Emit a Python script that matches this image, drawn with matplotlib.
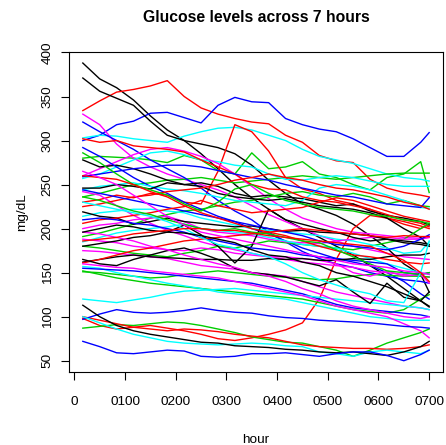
import numpy as np
import matplotlib
matplotlib.use("Agg")
import matplotlib.pyplot as plt

plt.rcParams['font.family'] = ['Liberation Sans', 'DejaVu Sans']

# sampling times in minutes after start
minutes = [10, 30, 50, 70, 90, 110, 130, 150, 170, 190, 210,
           230, 250, 270, 290, 310, 330, 350, 370, 390, 410, 420]

# glucose traces (mg/dL), one list per subject
black = [
    [388, 370, 360, 346, 328, 312, 300, 285, 268, 250, 235, 222, 210, 200, 190, 180, 170, 158, 146, 132, 118, 112],
    [371, 356, 348, 340, 322, 306, 300, 296, 292, 285, 272, 255, 240, 228, 222, 215, 205, 192, 178, 160, 148, 128],
    [278, 270, 272, 268, 262, 255, 250, 252, 248, 240, 236, 238, 236, 234, 230, 226, 228, 220, 215, 212, 208, 204],
    [246, 246, 250, 248, 245, 252, 250, 248, 240, 236, 234, 232, 234, 230, 226, 224, 222, 218, 212, 200, 190, 180],
    [219, 214, 212, 205, 208, 212, 208, 206, 204, 202, 203, 200, 197, 198, 196, 195, 194, 192, 188, 186, 184, 182],
    [180, 183, 186, 190, 192, 196, 204, 193, 180, 161, 180, 222, 210, 205, 200, 196, 190, 186, 188, 184, 182, 180],
    [162, 165, 168, 170, 168, 167, 166, 165, 165, 164, 164, 166, 165, 166, 164, 164, 166, 165, 168, 170, 170, 172],
    [165, 160, 158, 165, 170, 175, 178, 172, 165, 155, 150, 148, 145, 140, 135, 142, 128, 115, 138, 122, 118, 128],
    [113, 100, 90, 84, 80, 77, 74, 71, 70, 67, 66, 65, 63, 62, 60, 59, 60, 58, 56, 60, 66, 72],
    [196, 200, 204, 202, 198, 196, 195, 192, 188, 184, 176, 170, 168, 162, 158, 150, 146, 140, 134, 126, 118, 111],
]
red = [
    [334, 345, 355, 358, 362, 368, 350, 337, 330, 325, 321, 319, 306, 298, 283, 277, 275, 256, 246, 241, 238, 236],
    [230, 233, 238, 235, 240, 238, 230, 228, 265, 318, 310, 288, 258, 245, 240, 232, 228, 222, 212, 205, 200, 205],
    [98, 90, 86, 88, 90, 87, 84, 80, 75, 73, 76, 80, 85, 93, 120, 165, 200, 215, 212, 208, 203, 200],
    [302, 298, 300, 294, 292, 290, 287, 278, 270, 262, 250, 245, 244, 236, 232, 230, 226, 222, 216, 210, 206, 202],
    [225, 228, 232, 236, 238, 242, 244, 246, 250, 255, 258, 262, 258, 255, 250, 246, 244, 240, 236, 230, 226, 222],
    [206, 210, 212, 215, 218, 222, 225, 232, 226, 222, 218, 220, 222, 224, 230, 235, 232, 226, 220, 214, 210, 208],
    [161, 165, 170, 175, 178, 182, 186, 188, 190, 192, 194, 196, 198, 200, 198, 196, 194, 192, 190, 192, 191, 191],
    [100, 96, 92, 88, 86, 84, 86, 85, 83, 80, 78, 76, 72, 68, 66, 65, 64, 64, 63, 64, 66, 68],
    [260, 258, 256, 250, 242, 236, 226, 218, 212, 206, 200, 196, 192, 186, 180, 175, 170, 168, 165, 162, 160, 161],
    [186, 188, 190, 194, 196, 198, 200, 200, 198, 198, 195, 192, 190, 188, 186, 184, 182, 180, 172, 164, 150, 140],
]
green = [
    [280, 282, 281, 280, 278, 275, 283, 278, 266, 262, 286, 268, 270, 276, 262, 258, 250, 244, 258, 262, 276, 241],
    [236, 240, 245, 250, 252, 255, 256, 258, 255, 252, 254, 256, 258, 260, 258, 256, 258, 260, 262, 263, 263, 263],
    [191, 195, 200, 205, 212, 216, 220, 222, 226, 230, 232, 236, 240, 242, 238, 236, 240, 236, 228, 232, 226, 225],
    [180, 178, 175, 172, 170, 168, 172, 175, 180, 178, 182, 186, 184, 182, 180, 178, 176, 180, 184, 188, 200, 206],
    [151, 150, 148, 146, 144, 145, 148, 150, 152, 150, 148, 146, 145, 144, 142, 143, 146, 148, 147, 146, 146, 145],
    [152, 148, 144, 141, 138, 136, 134, 132, 130, 128, 126, 124, 122, 120, 116, 112, 108, 106, 104, 108, 120, 125],
    [87, 89, 91, 90, 92, 94, 93, 90, 86, 82, 77, 74, 71, 70, 66, 62, 55, 62, 70, 76, 82, 86],
    [286, 275, 262, 250, 244, 238, 228, 220, 230, 245, 250, 240, 232, 228, 224, 222, 220, 216, 214, 210, 208, 206],
    [236, 232, 226, 220, 216, 210, 205, 200, 198, 200, 196, 194, 190, 186, 184, 176, 168, 160, 152, 150, 148, 150],
]
blue = [
    [300, 306, 318, 322, 331, 332, 326, 320, 340, 349, 344, 343, 325, 318, 313, 310, 302, 292, 282, 282, 298, 309],
    [321, 310, 300, 290, 278, 268, 258, 246, 232, 220, 210, 196, 185, 174, 166, 160, 156, 150, 146, 142, 140, 138],
    [292, 282, 270, 258, 248, 240, 230, 222, 214, 208, 200, 194, 186, 178, 172, 166, 162, 158, 150, 140, 126, 120],
    [259, 262, 265, 268, 270, 272, 272, 270, 266, 262, 258, 255, 250, 246, 242, 238, 236, 232, 228, 226, 224, 235],
    [244, 240, 236, 232, 228, 224, 220, 216, 212, 208, 204, 200, 196, 192, 186, 182, 180, 178, 176, 180, 188, 193],
    [210, 212, 210, 206, 204, 200, 196, 190, 186, 182, 178, 176, 174, 170, 168, 166, 164, 162, 160, 150, 148, 150],
    [155, 154, 153, 152, 150, 148, 146, 144, 142, 140, 138, 134, 130, 126, 120, 114, 110, 108, 106, 104, 102, 100],
    [97, 103, 108, 105, 104, 105, 107, 110, 107, 105, 104, 101, 99, 98, 96, 95, 94, 93, 91, 89, 88, 87],
    [72, 66, 59, 58, 60, 62, 61, 55, 54, 55, 58, 58, 59, 57, 55, 58, 60, 60, 56, 50, 57, 62],
]
cyan = [
    [303, 306, 305, 302, 300, 298, 305, 310, 314, 315, 312, 306, 300, 290, 282, 278, 274, 268, 262, 258, 256, 254],
    [257, 262, 270, 278, 286, 288, 284, 278, 276, 272, 270, 262, 256, 255, 258, 260, 258, 254, 250, 248, 248, 248],
    [244, 248, 250, 252, 248, 245, 243, 240, 236, 232, 230, 228, 226, 232, 246, 250, 248, 244, 238, 232, 224, 223],
    [214, 218, 220, 222, 222, 220, 218, 212, 208, 204, 200, 198, 196, 194, 192, 188, 186, 182, 178, 172, 174, 185],
    [185, 190, 195, 198, 200, 202, 205, 200, 198, 196, 194, 190, 186, 182, 180, 178, 172, 166, 160, 155, 150, 148],
    [157, 155, 150, 146, 142, 138, 135, 132, 128, 126, 124, 122, 120, 116, 112, 108, 104, 100, 98, 96, 96, 96],
    [120, 118, 116, 119, 122, 126, 129, 130, 131, 132, 130, 128, 126, 124, 122, 120, 118, 116, 114, 112, 110, 108],
    [100, 93, 86, 80, 76, 72, 70, 69, 68, 69, 70, 69, 67, 66, 60, 58, 55, 60, 62, 60, 58, 62],
    [230, 226, 222, 218, 214, 208, 200, 190, 182, 178, 172, 168, 160, 150, 142, 136, 130, 126, 118, 116, 150, 186],
]
magenta = [
    [330, 318, 296, 280, 270, 262, 256, 250, 244, 236, 226, 216, 208, 200, 192, 186, 180, 176, 172, 168, 166, 165],
    [260, 268, 276, 284, 290, 292, 288, 282, 274, 262, 248, 234, 222, 212, 206, 200, 196, 194, 192, 190, 189, 190],
    [242, 238, 226, 215, 206, 198, 192, 185, 180, 176, 172, 168, 165, 162, 160, 158, 156, 152, 150, 148, 146, 145],
    [200, 204, 206, 210, 212, 214, 208, 200, 196, 194, 192, 188, 185, 184, 183, 186, 188, 190, 190, 188, 188, 190],
    [188, 186, 184, 180, 178, 176, 175, 178, 176, 172, 170, 168, 168, 166, 164, 160, 150, 146, 152, 146, 148, 138],
    [175, 174, 172, 170, 168, 166, 162, 158, 156, 154, 150, 148, 146, 140, 134, 128, 124, 120, 116, 112, 110, 108],
    [160, 158, 156, 155, 152, 150, 148, 146, 144, 140, 136, 132, 128, 124, 118, 112, 108, 104, 100, 92, 84, 76],
    [196, 194, 190, 186, 180, 176, 170, 165, 160, 156, 150, 146, 140, 132, 126, 118, 112, 108, 104, 100, 98, 100],
    [265, 258, 250, 238, 226, 214, 204, 196, 192, 188, 184, 180, 176, 172, 168, 164, 160, 158, 156, 152, 150, 148],
]

groups = [(black, "#000000"), (red, "#FF0000"), (green, "#00CD00"),
          (blue, "#0000FF"), (cyan, "#00FFFF"), (magenta, "#FF00FF")]

hour = np.array(minutes) / 60 * 100   # hours written as hhmm-style numbers

fig = plt.figure(figsize=(4.46, 4.45), dpi=100)
ax = fig.add_axes([69/446, 1 - 372/445, 374/446, 320.5/445])

# draw subjects in turn, cycling the colours like matplot does
nmax = max(len(g) for g, _ in groups)
for i in range(nmax):
    for g, col in groups:
        if i < len(g):
            ax.plot(hour, g[i], color=col, lw=1.0)

ax.set_xlim(-10.6, 727.3)
ax.set_ylim(37.2, 401.1)
ax.set_xticks([0, 100, 200, 300, 400, 500, 600, 700])
ax.set_xticklabels(["0", "0100", "0200", "0300", "0400", "0500", "0600", "0700"])
ax.set_yticks([50, 100, 150, 200, 250, 300, 350, 400])
ax.tick_params(axis='both', direction='out', length=6, width=0.8, labelsize=9.7)
ax.tick_params(axis='x', pad=11)
ax.tick_params(axis='y', pad=5)
for lab in ax.get_yticklabels():
    lab.set_rotation(90)
    lab.set_va('center')
for sp in ax.spines.values():
    sp.set_linewidth(0.8)

ax.set_title("Glucose levels across 7 hours", fontsize=11.3, fontweight='bold', pad=21)
ax.set_xlabel("hour", fontsize=9.7, labelpad=19)
ax.set_ylabel("mg/dL", fontsize=9.7, labelpad=10)

fig.savefig("out.png", dpi=100)
